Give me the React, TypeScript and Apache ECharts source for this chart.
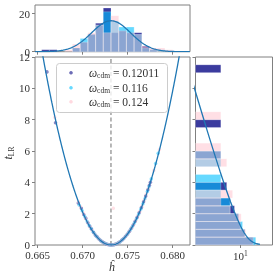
import React, { useEffect, useRef } from 'react';
import * as echarts from 'echarts';

// ---------- data ----------
const seriesNames = ['0.12011', '0.116', '0.124'];

// scatter points (h, t_LR)
const hPurple = [0.66603, 0.66698, 0.66951, 0.66985, 0.67012, 0.67035, 0.67058, 0.67079, 0.67098, 0.67121, 0.67142, 0.6716, 0.67181, 0.672, 0.67222, 0.6724, 0.67262, 0.67281, 0.673, 0.67318, 0.67335, 0.67352, 0.67371, 0.67392, 0.6741, 0.67433, 0.67452, 0.67474, 0.67495, 0.67518, 0.6754, 0.67561, 0.67583, 0.67605, 0.67628, 0.67652, 0.67676, 0.677, 0.67724, 0.67741, 0.67752];
const tPurple = [11.05, 7.8, 2.68, 2.35, 1.95, 1.7, 1.42, 1.2, 1.02, 0.8, 0.62, 0.52, 0.38, 0.28, 0.19, 0.12, 0.06, 0.03, 0.01, 0.0, 0.01, 0.03, 0.07, 0.13, 0.19, 0.3, 0.4, 0.54, 0.68, 0.87, 1.07, 1.28, 1.51, 1.77, 2.07, 2.4, 2.76, 3.12, 3.52, 3.82, 4.0];
const hBlue = [0.6696, 0.66995, 0.67025, 0.6705, 0.67072, 0.67093, 0.67115, 0.67133, 0.67152, 0.6717, 0.6719, 0.67208, 0.67229, 0.6725, 0.6727, 0.67292, 0.6731, 0.67328, 0.67346, 0.67363, 0.67382, 0.67401, 0.6742, 0.67441, 0.67462, 0.67485, 0.67507, 0.67529, 0.6755, 0.67572, 0.67596, 0.6762, 0.67645, 0.67668, 0.6769, 0.67718, 0.67735, 0.67762, 0.6781, 0.67838];
const tBlue = [2.55, 2.18, 1.8, 1.5, 1.25, 1.05, 0.85, 0.7, 0.56, 0.45, 0.33, 0.24, 0.16, 0.09, 0.05, 0.02, 0.0, 0.01, 0.02, 0.05, 0.1, 0.16, 0.23, 0.34, 0.45, 0.61, 0.77, 0.96, 1.16, 1.39, 1.66, 1.95, 2.28, 2.62, 2.95, 3.42, 3.7, 4.22, 5.2, 5.85];
const hPink = [0.6669, 0.66955, 0.66975, 0.67005, 0.6703, 0.67055, 0.67082, 0.67105, 0.67127, 0.67148, 0.67168, 0.67186, 0.67205, 0.67225, 0.67245, 0.67266, 0.67285, 0.67305, 0.6734, 0.67325, 0.67343, 0.6736, 0.67378, 0.67396, 0.67415, 0.67437, 0.67458, 0.6748, 0.675, 0.67523, 0.67545, 0.67567, 0.6759, 0.67612, 0.67636, 0.6766, 0.67685, 0.67708, 0.6773, 0.6779, 0.67853];
const tPink = [8.15, 2.75, 2.45, 2.05, 1.72, 1.45, 1.15, 0.93, 0.74, 0.59, 0.45, 0.35, 0.25, 0.17, 0.1, 0.05, 0.02, 0.0, 2.34, 0.0, 0.02, 0.04, 0.08, 0.14, 0.21, 0.31, 0.43, 0.57, 0.72, 0.91, 1.11, 1.33, 1.59, 1.85, 2.16, 2.5, 2.88, 3.25, 3.62, 4.75, 6.1];

// top histogram (counts per h bin)
const topBinStart = 0.66544;
const topBinWidth = 0.000856;
const topPurple = [1, 1, 0, 0, 2, 5, 9, 15, 23, 10, 11, 10, 10, 3, 1, 0, 0, 0];
const topBlue = [0, 0, 0, 0, 2, 7, 9, 14, 21, 16, 13, 13, 9, 2, 1, 1, 0, 0];
const topPink = [0, 0, 0, 1, 4, 5, 10, 14, 10, 19, 11, 10, 9, 3, 2, 2, 1, 0];

// right histogram (counts per t_LR bin)
const rightBinWidth = 0.5;
const rightPurple = [46, 17, 10, 8, 5, 3, 0, 2, 0, 0, 0, 1, 0, 0, 0, 1, 0, 0, 0, 0, 0, 0, 1, 0];
const rightBlue = [62, 17, 13, 8, 3, 3, 1, 1, 1, 0, 1, 1, 0, 0, 0, 0, 0, 0, 0, 0, 0, 0, 0, 0];
const rightPink = [46, 19, 10, 11, 3, 1, 4, 0, 0, 0, 2, 1, 1, 0, 0, 0, 1, 0, 0, 0, 0, 0, 0, 0];

// fit parameters
const fitCenter = 0.67315;
const fitCurvature = 210000; // t = k (h - h0)^2
const topPeak = 16.3;
const rightNorm = 52;
const referenceH = 0.67314;

// axes
const xMin = 0.6647;
const xMax = 0.68192;
const xTicks = [0.665, 0.67, 0.675, 0.68];
const yMax = 12;
const topYMax = 24.6;
const topYTicks = [0, 20];
const rightXMin = 0.05;
const rightXMax = 450;
const rightXTicks = [10];

// ---------- styles ----------
const FONT = 'Liberation Serif';
const AXIS_GRAY = '#808080';
const LABEL = '#333333';
const FIT = '#1f77b4';
const histFill = ['rgba(59,59,158,1)', 'rgba(0,191,255,0.6)', 'rgba(255,192,203,0.5)'];
const dotFill = ['rgba(59,59,158,0.75)', 'rgba(0,191,255,0.6)', 'rgba(255,192,203,0.6)'];

export default function App() {
  const ref = useRef<HTMLDivElement>(null);
  useEffect(() => {
    if (!ref.current) return;
    const chart = echarts.init(ref.current, undefined, { renderer: 'svg' });

    const zip = (a: number[], b: number[]) => a.map((v, i) => [v, b[i]]);
    const scatterData = [zip(hPurple, tPurple), zip(hBlue, tBlue), zip(hPink, tPink)];

    const mainFit: number[][] = [];
    const topFit: number[][] = [];
    const sigma = 1 / Math.sqrt(fitCurvature);
    for (let h = xMin; h <= xMax + 1e-9; h += 0.00004) {
      mainFit.push([h, fitCurvature * (h - fitCenter) * (h - fitCenter)]);
      topFit.push([h, topPeak * Math.exp(-((h - fitCenter) ** 2) / (2 * sigma * sigma))]);
    }
    const rightFit: number[][] = [];
    for (let t = 0.04; t <= yMax; t += 0.04) {
      rightFit.push([(rightNorm * Math.exp(-t / 2)) / Math.sqrt(2 * Math.PI * t), t]);
    }

    const topHist = [topPurple, topBlue, topPink].map((arr) =>
      arr.map((c, i) => [topBinStart + i * topBinWidth, topBinStart + (i + 1) * topBinWidth, c]).filter((d) => d[2] > 0)
    );
    const rightHist = [rightPurple, rightBlue, rightPink].map((arr) =>
      arr.map((c, i) => [i * rightBinWidth, (i + 1) * rightBinWidth, c]).filter((d) => d[2] > 0)
    );

    const tickStyle = { show: true, inside: false, length: 3, lineStyle: { color: AXIS_GRAY, width: 1 } };
    const labelStyle = { fontFamily: FONT, fontSize: 11, color: LABEL };

    const series: any[] = [];
    scatterData.forEach((d, i) => {
      series.push({
        type: 'scatter', name: seriesNames[i], xAxisIndex: 0, yAxisIndex: 0,
        data: d, symbolSize: 3.5, itemStyle: { color: dotFill[i] }, z: 2,
      });
    });
    series.push({
      type: 'line', xAxisIndex: 0, yAxisIndex: 0, data: [[referenceH, 0], [referenceH, yMax]],
      showSymbol: false, lineStyle: { color: '#707070', width: 1, type: [4, 2.5] }, z: 1, silent: true,
    });
    series.push({
      type: 'line', xAxisIndex: 0, yAxisIndex: 0, data: mainFit, showSymbol: false, clip: true,
      lineStyle: { color: FIT, width: 1.3 }, z: 3, silent: true,
    });
    topHist.forEach((d, i) => {
      series.push({
        type: 'custom', xAxisIndex: 1, yAxisIndex: 1, data: d, clip: true,
        encode: { x: [0, 1], y: 2 }, z: 2,
        renderItem: (params: any, api: any) => {
          const a = api.coord([api.value(0), api.value(2)]);
          const b = api.coord([api.value(1), 0]);
          return {
            type: 'rect', shape: { x: a[0], y: a[1], width: b[0] - a[0], height: b[1] - a[1] },
            style: { fill: histFill[i], stroke: 'rgba(255,255,255,0.45)', lineWidth: 0.5 },
          };
        },
      });
    });
    series.push({
      type: 'line', xAxisIndex: 1, yAxisIndex: 1, data: topFit, showSymbol: false, clip: true,
      lineStyle: { color: FIT, width: 1.3 }, z: 3, silent: true,
    });
    rightHist.forEach((d, i) => {
      series.push({
        type: 'custom', xAxisIndex: 2, yAxisIndex: 2, data: d, clip: true,
        encode: { y: [0, 1], x: 2 }, z: 2,
        renderItem: (params: any, api: any) => {
          const a = api.coord([rightXMin, api.value(1)]);
          const b = api.coord([api.value(2), api.value(0)]);
          return {
            type: 'rect', shape: { x: a[0], y: a[1], width: b[0] - a[0], height: b[1] - a[1] },
            style: { fill: histFill[i], stroke: 'rgba(255,255,255,0.45)', lineWidth: 0.5 },
          };
        },
      });
    });
    series.push({
      type: 'line', xAxisIndex: 2, yAxisIndex: 2, data: rightFit, showSymbol: false, clip: true,
      lineStyle: { color: FIT, width: 1.3 }, z: 3, silent: true,
    });

    const legendRows = [72.7, 87.7, 101.7];
    const graphic: any[] = [
      {
        type: 'rect', z: 50, shape: { x: 56.5, y: 63.5, width: 111, height: 49, r: 3 },
        style: { fill: 'rgba(255,255,255,0.8)', stroke: '#cccccc', lineWidth: 1 },
      },
    ];
    seriesNames.forEach((n, i) => {
      graphic.push({ type: 'circle', z: 51, shape: { cx: 71, cy: legendRows[i], r: 1.8 }, style: { fill: dotFill[i] } });
      graphic.push({
        type: 'text', z: 51, x: 89, y: legendRows[i],
        style: {
          text: `{w|ω}{s|cdm}{e| = ${n}}`, verticalAlign: 'middle', align: 'left',
          rich: {
            w: { fontFamily: FONT, fontStyle: 'italic', fontSize: 11.5, fill: LABEL },
            s: { fontFamily: FONT, fontSize: 7.5, fill: LABEL, padding: [6, 0, 0, 0] },
            e: { fontFamily: FONT, fontSize: 11.5, fill: LABEL },
          },
        },
      });
    });
    graphic.push({
      type: 'text', x: 111.7, y: 267,
      style: { text: 'ĥ', fontFamily: FONT, fontStyle: 'italic', fontSize: 12, fill: LABEL, align: 'center', verticalAlign: 'middle' },
    });
    graphic.push({
      type: 'text', x: 8, y: 153, rotation: Math.PI / 2,
      style: {
        text: '{t|t}{s|LR}', align: 'center', verticalAlign: 'middle',
        rich: {
          t: { fontFamily: FONT, fontStyle: 'italic', fontSize: 12, fill: LABEL },
          s: { fontFamily: FONT, fontSize: 7.5, fill: LABEL, padding: [6, 0, 0, 0] },
        },
      },
    });

    chart.setOption({
      animation: false,
      textStyle: { fontFamily: FONT },
      grid: [
        { left: 35, top: 57, width: 155, height: 188, show: true, borderColor: AXIS_GRAY, borderWidth: 1, backgroundColor: 'transparent' },
        { left: 35, top: 5, width: 155, height: 46.7, show: true, borderColor: AXIS_GRAY, borderWidth: 1, backgroundColor: 'transparent' },
        { left: 195.5, top: 57, width: 77, height: 188, show: true, borderColor: AXIS_GRAY, borderWidth: 1, backgroundColor: 'transparent' },
      ],
      xAxis: [
        {
          gridIndex: 0, type: 'value', min: xMin, max: xMax, axisLine: { show: false }, splitLine: { show: false },
          axisTick: { ...tickStyle, customValues: xTicks },
          axisLabel: { ...labelStyle, customValues: xTicks, margin: 4, formatter: (v: number) => v.toFixed(3) },
        },
        {
          gridIndex: 1, type: 'value', min: xMin, max: xMax, axisLine: { show: false }, splitLine: { show: false },
          axisTick: { ...tickStyle, customValues: xTicks }, axisLabel: { show: false },
        },
        {
          gridIndex: 2, type: 'log', logBase: 10, min: rightXMin, max: rightXMax, axisLine: { show: false }, splitLine: { show: false },
          minorTick: { show: false },
          axisTick: { ...tickStyle, customValues: rightXTicks },
          axisLabel: {
            ...labelStyle, customValues: rightXTicks, margin: 4,
            formatter: () => '{b|10}{s|1}',
            rich: {
              b: { fontFamily: FONT, fontSize: 11, color: LABEL },
              s: { fontFamily: FONT, fontSize: 7.5, color: LABEL, padding: [0, 0, 6, 0] },
            },
          },
        },
      ],
      yAxis: [
        {
          gridIndex: 0, type: 'value', min: 0, max: yMax, interval: 2, axisLine: { show: false }, splitLine: { show: false },
          axisTick: tickStyle, axisLabel: { ...labelStyle, margin: 5 },
        },
        {
          gridIndex: 1, type: 'value', min: 0, max: topYMax, axisLine: { show: false }, splitLine: { show: false },
          axisTick: { ...tickStyle, customValues: topYTicks }, axisLabel: { ...labelStyle, margin: 5, customValues: topYTicks },
        },
        {
          gridIndex: 2, type: 'value', min: 0, max: yMax, interval: 2, axisLine: { show: false }, splitLine: { show: false },
          axisTick: tickStyle, axisLabel: { show: false },
        },
      ],
      series,
      graphic,
    });
    return () => chart.dispose();
  }, []);
  return <div ref={ref} style={{ position: 'fixed', left: 0, top: 0, width: 279, height: 278 }} />;
}
